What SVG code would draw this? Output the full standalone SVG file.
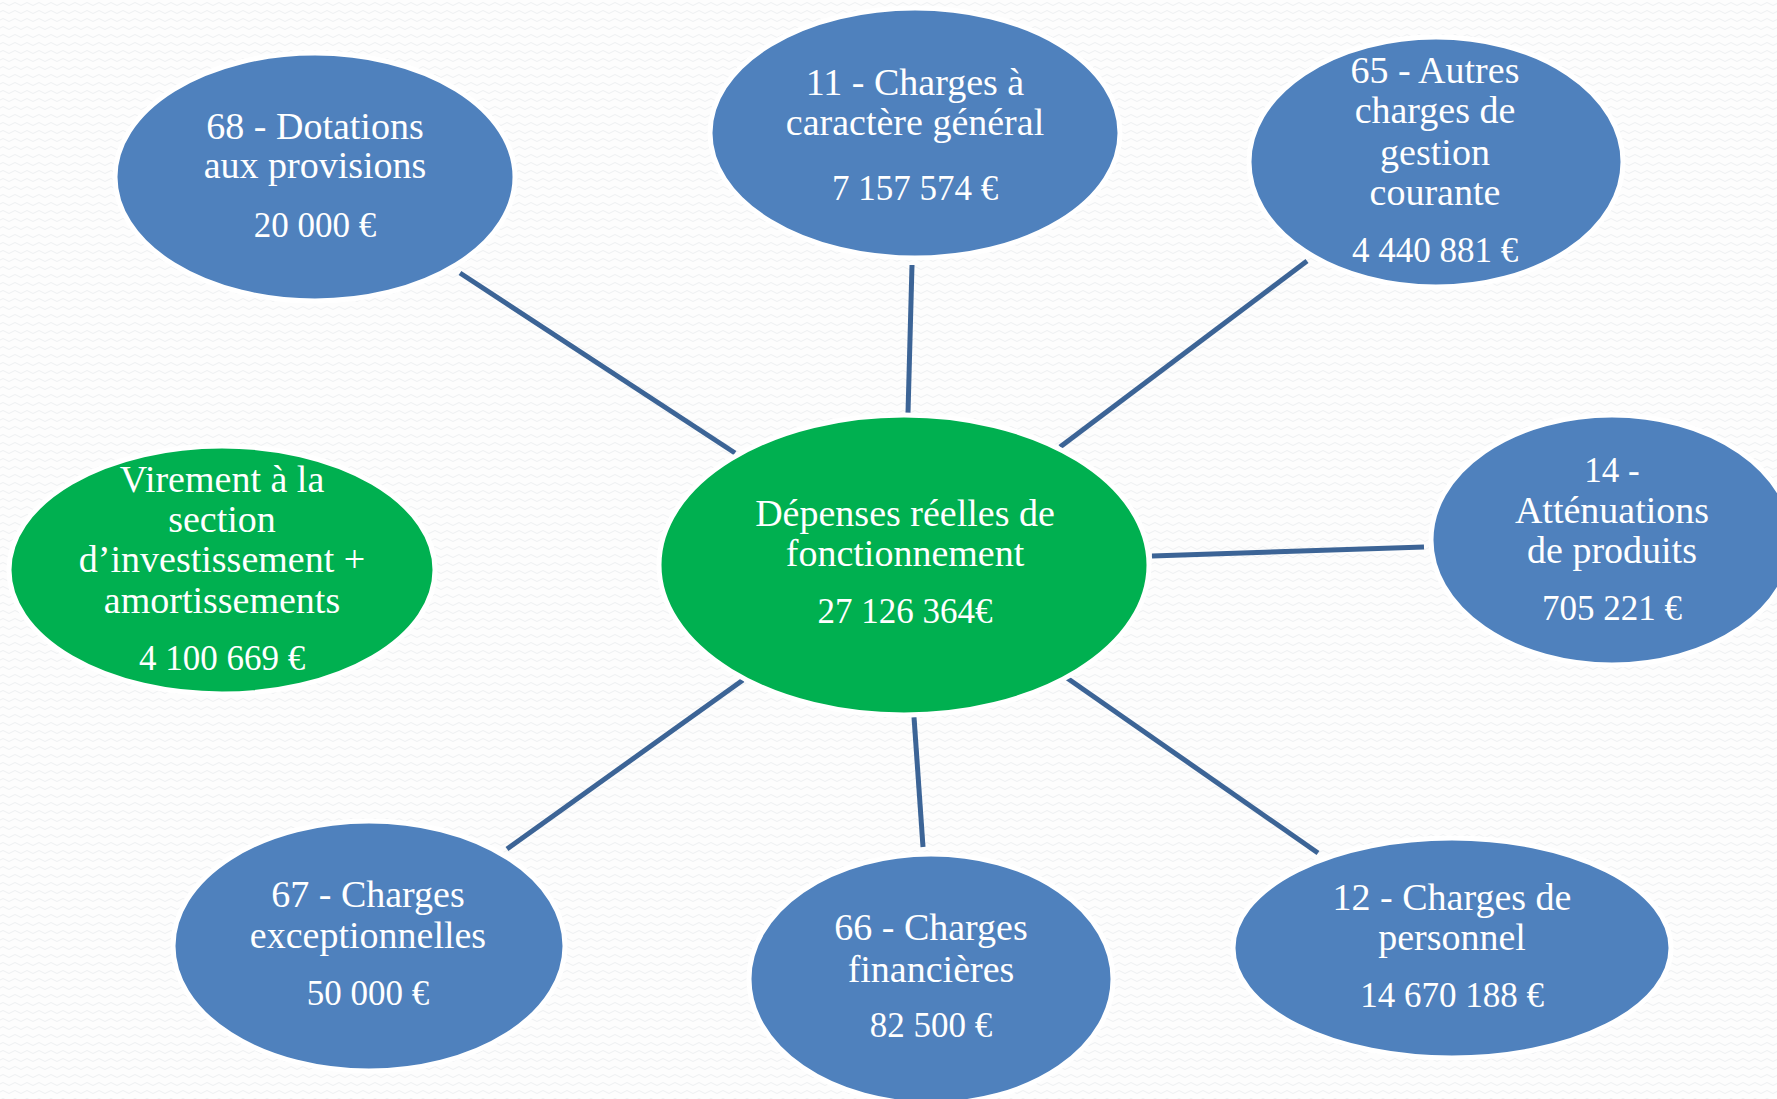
<svg xmlns="http://www.w3.org/2000/svg" width="1777" height="1099" viewBox="0 0 1777 1099">
  <defs>
    <pattern id="bgwave" width="12" height="8" patternUnits="userSpaceOnUse">
      <rect width="12" height="8" fill="#fdfdfd"/>
      <path d="M0 4 Q3 1 6 4 T12 4" fill="none" stroke="#eef0f2" stroke-width="1"/>
    </pattern>
  </defs>
  <style>
    .blue { fill: #4f81bd; stroke: #ffffff; stroke-width: 5; }
    .green { fill: #00b050; stroke: #ffffff; stroke-width: 5; }
    .lbl { font-family: "Liberation Serif", "DejaVu Serif", serif; font-size: 38px; fill: #ffffff; text-anchor: middle; }
    .num { font-family: "Liberation Serif", "DejaVu Serif", serif; font-size: 35px; fill: #ffffff; text-anchor: middle; }
    .conn { stroke: #3c6496; stroke-width: 5; fill: none; }
  </style>
  <rect width="1777" height="1099" fill="url(#bgwave)"/>

  <g id="connectors">
    <line class="conn" x1="460" y1="273" x2="735" y2="453"/>
    <line class="conn" x1="912" y1="265" x2="908" y2="413"/>
    <line class="conn" x1="1307" y1="261" x2="1060" y2="447"/>
    <line class="conn" x1="1152" y1="556" x2="1424" y2="547"/>
    <line class="conn" x1="1067" y1="678" x2="1318" y2="853"/>
    <line class="conn" x1="914" y1="717" x2="923" y2="847"/>
    <line class="conn" x1="743" y1="680" x2="507" y2="849"/>
  </g>

  <g id="node-center">
    <ellipse class="green" cx="904" cy="565" rx="245" ry="150"/>
    <text class="lbl" x="905" y="526">Dépenses réelles de</text>
    <text class="lbl" x="905" y="566">fonctionnement</text>
    <text class="num" x="905" y="623">27 126 364€</text>
  </g>

  <g id="node-68">
    <ellipse class="blue" cx="315" cy="177" rx="200" ry="124"/>
    <text class="lbl" x="315" y="139">68 - Dotations</text>
    <text class="lbl" x="315" y="178">aux provisions</text>
    <text class="num" x="315" y="237">20 000 €</text>
  </g>

  <g id="node-11">
    <ellipse class="blue" cx="915" cy="133" rx="205" ry="125"/>
    <text class="lbl" x="915" y="95">11 - Charges à</text>
    <text class="lbl" x="915" y="135">caractère général</text>
    <text class="num" x="915" y="200">7 157 574 €</text>
  </g>

  <g id="node-65">
    <ellipse class="blue" cx="1436" cy="162" rx="187" ry="125"/>
    <text class="lbl" x="1435" y="83">65 - Autres</text>
    <text class="lbl" x="1435" y="123">charges de</text>
    <text class="lbl" x="1435" y="165">gestion</text>
    <text class="lbl" x="1435" y="205">courante</text>
    <text class="num" x="1435" y="262">4 440 881 €</text>
  </g>

  <g id="node-14">
    <ellipse class="blue" cx="1612" cy="540" rx="181" ry="125"/>
    <text class="num" x="1612" y="482">14 -</text>
    <text class="lbl" x="1612" y="523">Atténuations</text>
    <text class="lbl" x="1612" y="563">de produits</text>
    <text class="num" x="1612" y="620">705 221 €</text>
  </g>

  <g id="node-virement">
    <ellipse class="green" cx="222" cy="570" rx="213" ry="124"/>
    <text class="lbl" x="222" y="492">Virement à la</text>
    <text class="lbl" x="222" y="532">section</text>
    <text class="lbl" x="222" y="572">d’investissement +</text>
    <text class="lbl" x="222" y="613">amortissements</text>
    <text class="num" x="222" y="670">4 100 669 €</text>
  </g>

  <g id="node-67">
    <ellipse class="blue" cx="369" cy="946" rx="196" ry="125"/>
    <text class="lbl" x="368" y="907">67 - Charges</text>
    <text class="lbl" x="368" y="948">exceptionnelles</text>
    <text class="num" x="368" y="1005">50 000 €</text>
  </g>

  <g id="node-66">
    <ellipse class="blue" cx="931" cy="979" rx="182" ry="125"/>
    <text class="lbl" x="931" y="940">66 - Charges</text>
    <text class="lbl" x="931" y="982">financières</text>
    <text class="num" x="931" y="1037">82 500 €</text>
  </g>

  <g id="node-12">
    <ellipse class="blue" cx="1452" cy="948" rx="219" ry="110"/>
    <text class="lbl" x="1452" y="910">12 - Charges de</text>
    <text class="lbl" x="1452" y="950">personnel</text>
    <text class="num" x="1452" y="1007">14 670 188 €</text>
  </g>
</svg>
